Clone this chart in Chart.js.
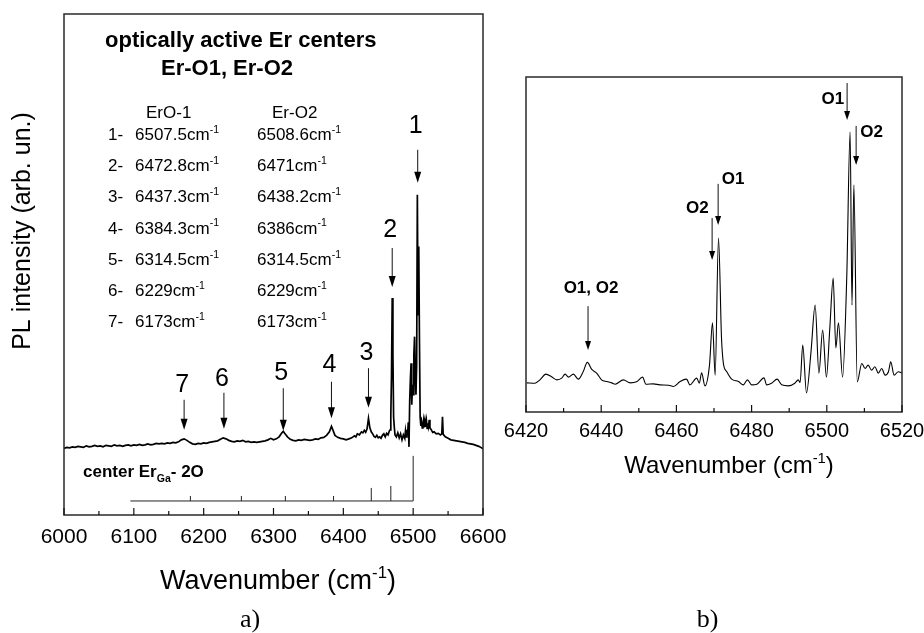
<!DOCTYPE html>
<html><head><meta charset="utf-8">
<script src="https://cdn.jsdelivr.net/npm/chart.js@4/dist/chart.umd.min.js"></script>
<style>
html,body{margin:0;padding:0;background:#fff;width:924px;height:633px;overflow:hidden}
canvas{position:absolute;top:0}
#ca{left:0}
#cb{left:500px}
</style></head><body>
<canvas id="ca" width="520" height="633"></canvas>
<canvas id="cb" width="424" height="633"></canvas>
<script>
// ---------------- DATA (panel a) ----------------
const wavenumberA = [6000,6004,6008,6012,6016,6020,6024,6028,6032,6036,6040,6044,6048,6052,6056,6060,6064,6068,6072,6076,6080,6084,6088,6092,6096,6100,6104,6108,6112,6116,6120,6124,6128,6132,6136,6140,6144,6148,6152,6156,6160,6164,6168,6172,6176,6180,6184,6188,6192,6196,6200,6204,6208,6212,6216,6220,6224,6228,6232,6236,6240,6244,6248,6252,6256,6260,6264,6268,6272,6276,6280,6284,6288,6292,6296,6300,6304,6308,6312,6314,6316,6320,6324,6328,6332,6336,6340,6344,6348,6352,6356,6360,6364,6368,6372,6376,6380,6383,6385,6388,6392,6396,6400,6404,6408,6412,6416,6418,6420,6423,6426,6428,6430,6432,6434,6436,6438,6440,6442,6444,6446,6448,6450,6452,6454,6456,6458,6460,6462,6464,6466,6467,6468,6469,6470,6471,6472,6473,6474,6476,6478,6480,6482,6484,6486,6488,6489,6490,6491,6492,6493,6494,6495,6496,6497,6498,6499,6500,6501,6502,6503,6504,6505,6506,6507,6508,6509,6510,6511,6512,6513,6514,6515,6516,6517,6518,6519,6520,6521,6522,6523,6524,6526,6528,6530,6533,6536,6539,6541,6542,6543,6546,6550,6554,6558,6562,6566,6570,6574,6578,6582,6586,6590,6594,6598,6600];
const intensityA = [13.3,13.5,13.4,13.6,13.5,13.7,13.6,13.5,13.8,13.6,13.7,13.9,13.7,13.8,13.6,13.9,13.8,13.7,14.0,13.8,13.9,13.7,13.9,14.0,13.8,14.0,13.9,14.1,13.9,14.0,14.2,14.0,14.1,14.3,14.2,14.3,14.2,14.4,14.3,14.5,14.4,14.6,15.0,15.2,14.9,14.5,14.2,14.1,14.3,14.2,14.4,14.3,14.5,14.6,14.7,14.8,15.1,15.4,15.2,14.9,14.7,14.6,14.8,14.7,14.9,14.6,14.7,14.5,14.6,14.5,14.6,14.7,14.8,15.0,15.3,15.0,15.2,15.6,16.4,16.7,16.3,15.6,15.1,14.9,14.8,15.0,14.9,15.1,15.0,14.9,15.0,15.2,15.1,15.4,15.5,15.9,16.6,17.7,17.0,15.9,15.5,15.3,15.2,15.0,15.2,15.4,15.8,15.6,16.2,16.0,16.6,16.4,16.9,16.5,17.2,19.3,17.4,16.6,16.2,15.7,15.5,15.9,15.4,15.6,15.3,15.9,16.2,15.6,16.3,16.0,16.8,17.0,20.0,28.0,43.3,32.0,19.5,17.5,16.0,15.6,16.4,15.4,16.2,15.0,16.0,15.3,16.8,15.6,17.0,16.0,18.5,13.6,22.6,27.0,30.3,22.0,26.0,24.0,32.0,35.6,28.0,24.0,30.0,63.9,40.0,53.6,35.0,19.5,17.8,18.6,17.4,18.0,19.0,17.5,18.8,17.6,18.8,17.3,18.3,17.6,19.0,17.4,17.0,16.5,16.6,16.2,16.3,16.0,16.2,19.6,16.1,15.6,15.3,15.0,14.9,14.8,14.7,14.6,14.5,14.3,14.2,14.1,13.9,13.7,13.4,13.2];
// stick diagram "center Er_Ga - 2O"
const stickBaseFrom = 6095, stickBaseTo = 6500, stickBaseLevel = 2.8;
const stickPositions = [6500, 6468, 6440, 6386, 6317, 6254, 6181];
const stickHeights   = [11.8, 5.8, 5.4, 3.8, 3.8, 3.8, 3.8];
// peak labels
const peakNumbers = ['1','2','3','4','5','6','7'];
const peakPositionsA = [6506.5, 6470, 6436, 6383, 6314, 6229, 6172];
const tableO1 = ['6507.5','6472.8','6437.3','6384.3','6314.5','6229','6173'];
const tableO2 = ['6508.6','6471','6438.2','6386','6314.5','6229','6173'];
const ticksA = [6000,6100,6200,6300,6400,6500,6600];
const minorTicksA = [6050,6150,6250,6350,6450,6550];

// ---------------- DATA (panel b) ----------------
const wavenumberB = [6420.2,6422.4,6423.7,6425.3,6426.8,6428.2,6429.5,6430.4,6431.3,6432.6,6433.9,6435.2,6436.3,6437.5,6438.8,6440.1,6441.5,6442.8,6443.7,6445.9,6447.7,6449.4,6451.0,6451.9,6453.9,6455.6,6457.9,6459.2,6461.0,6462.7,6463.6,6465.4,6466.1,6466.7,6467.6,6468.8,6469.6,6470.3,6471.2,6472.0,6472.5,6473.4,6474.7,6476.5,6477.8,6478.9,6480.0,6481.4,6483.3,6484.0,6485.3,6486.8,6488.0,6489.8,6491.5,6492.4,6492.9,6493.6,6494.6,6495.8,6496.9,6497.9,6498.9,6499.9,6500.8,6501.7,6502.4,6503.1,6504.2,6505.3,6506.2,6506.7,6507.2,6508.1,6509.3,6510.2,6511.0,6511.9,6512.8,6513.7,6514.6,6515.5,6516.4,6517.0,6517.9,6519.0,6520.0];
const intensityB = [8.7,8.6,9.6,11.3,10.5,9.6,10.1,11.3,10.4,11.3,9.8,12.0,14.8,12.7,11.6,9.6,9.1,8.7,8.3,9.6,8.7,9.0,10.4,8.3,8.4,8.1,8.0,7.6,9.1,9.8,8.1,10.1,8.6,11.7,7.8,14.0,26.6,11.0,51.9,22.0,14.5,12.0,9.8,9.1,8.1,9.6,8.1,8.3,10.2,8.1,8.6,9.8,8.1,7.8,8.6,9.6,8.8,20.0,5.7,18.0,31.9,11.6,24.5,10.4,25.0,40.0,19.1,26.6,10.4,40.0,83.6,31.9,67.8,9.0,14.5,13.0,14.0,12.5,13.5,11.6,13.0,11.0,12.0,15.0,11.0,12.0,11.6];
const ticksB = [6420,6440,6460,6480,6500,6520];
const minorTicksB = [6430,6450,6470,6490,6510];

// ---------------- helpers ----------------
const SANS = '"Liberation Sans", Arial, Helvetica, sans-serif';
const SERIF = '"Liberation Serif", "Times New Roman", serif';
function fnt(size, bold, fam){ return (bold ? 'bold ' : '') + size + 'px ' + (fam || SANS); }
function rich(ctx, parts, x, y, size, bold, align, fam){
  const sz = m => m ? size * 0.62 : size;
  const widths = parts.map(([t, m]) => { ctx.font = fnt(sz(m), bold, fam); return ctx.measureText(t).width; });
  const total = widths.reduce((a, b) => a + b, 0);
  let cx = align === 'center' ? x - total / 2 : (align === 'right' ? x - total : x);
  ctx.textAlign = 'left'; ctx.textBaseline = 'alphabetic'; ctx.fillStyle = '#000';
  parts.forEach(([t, m], i) => {
    ctx.font = fnt(sz(m), bold, fam);
    const dy = m === 1 ? -size * 0.42 : (m === -1 ? size * 0.28 : 0);
    ctx.fillText(t, cx, y + dy);
    cx += widths[i];
  });
}
function arrow(ctx, x, y1, y2, head, hw){
  ctx.save();
  ctx.strokeStyle = '#111'; ctx.fillStyle = '#000'; ctx.lineWidth = 1;
  ctx.beginPath(); ctx.moveTo(x, y1); ctx.lineTo(x, y2 - head + 1); ctx.stroke();
  ctx.beginPath(); ctx.moveTo(x - hw, y2 - head); ctx.lineTo(x + hw, y2 - head); ctx.lineTo(x, y2); ctx.closePath(); ctx.fill();
  ctx.restore();
}
function frameAndTicks(chart, majors, minors, majLen, minLen){
  const ctx = chart.ctx, a = chart.chartArea, xs = chart.scales.x;
  ctx.save();
  ctx.strokeStyle = '#2a2a2a'; ctx.lineWidth = 1.5;
  ctx.strokeRect(a.left, a.top, a.right - a.left, a.bottom - a.top);
  ctx.lineWidth = 1.2; ctx.strokeStyle = '#111';
  ctx.beginPath();
  majors.forEach(v => { const p = xs.getPixelForValue(v); ctx.moveTo(p, a.bottom); ctx.lineTo(p, a.bottom - majLen); });
  minors.forEach(v => { const p = xs.getPixelForValue(v); ctx.moveTo(p, a.bottom); ctx.lineTo(p, a.bottom - minLen); });
  ctx.stroke();
  ctx.restore();
}

// stick dataset built from the stick arrays
const stickData = [{x: stickBaseFrom, y: stickBaseLevel}, {x: stickBaseTo, y: stickBaseLevel}, {x: stickBaseTo, y: null}];
stickPositions.forEach((p, i) => { stickData.push({x: p, y: stickBaseLevel}, {x: p, y: stickHeights[i]}, {x: p + 0.01, y: null}); });

// annotation layout for panel a (y in intensity units)
const peakLabelY  = [76.2, 55.5, 30.9, 28.5, 26.9, 25.7, 24.6];
const peakArrowY1 = [72.9, 53.3, 29.3, 26.6, 25.3, 24.4, 23.0];
const peakArrowY2 = [66.3, 45.5, 21.4, 19.3, 16.8, 17.2, 17.0];

const plugA = {
  id: 'plugA',
  afterDraw(chart){
    const ctx = chart.ctx, xs = chart.scales.x, ys = chart.scales.y;
    frameAndTicks(chart, ticksA, minorTicksA, 7, 4);
    rich(ctx, [['Wavenumber (cm', 0], ['-1', 1], [')', 0]], 278, 589, 27, false, 'center');
    ctx.save(); ctx.translate(30, 231); ctx.rotate(-Math.PI / 2);
    rich(ctx, [['PL intensity (arb. un.)', 0]], 0, 0, 25, false, 'center');
    ctx.restore();
    rich(ctx, [['a)', 0]], 250, 627, 26, false, 'center', SERIF);
    rich(ctx, [['optically active Er centers', 0]], 105, 46.5, 22, true, 'left');
    rich(ctx, [['Er-O1, Er-O2', 0]], 227, 75, 22, true, 'center');
    rich(ctx, [['ErO-1', 0]], 146, 118, 17, false, 'left');
    rich(ctx, [['Er-O2', 0]], 272, 118, 17, false, 'left');
    for (let i = 0; i < tableO1.length; i++){
      const y = 140 + 31.2 * i;
      rich(ctx, [[(i + 1) + '-', 0]], 108, y, 17, false, 'left');
      rich(ctx, [[tableO1[i] + 'cm', 0], ['-1', 1]], 135, y, 17, false, 'left');
      rich(ctx, [[tableO2[i] + 'cm', 0], ['-1', 1]], 257, y, 17, false, 'left');
    }
    peakNumbers.forEach((n, i) => {
      const x = xs.getPixelForValue(peakPositionsA[i]);
      rich(ctx, [[n, 0]], x - 2, ys.getPixelForValue(peakLabelY[i]), 25, false, 'center');
      arrow(ctx, x, ys.getPixelForValue(peakArrowY1[i]), ys.getPixelForValue(peakArrowY2[i]), 11, 3.5);
    });
    rich(ctx, [['center Er', 0], ['Ga', -1], ['- 2O', 0]], 83, 477, 17, true, 'left');
  }
};

// annotation layout for panel b
const annB = [
  {t: 'O1, O2', tx: 6437.3, ty: 35.5, ax: 6436.5, a1: 31.6, a2: 18.5},
  {t: 'O2', tx: 6465.6, ty: 59.3, ax: 6469.5, a1: 57.9, a2: 45.4},
  {t: 'O1', tx: 6475.1, ty: 68.0, ax: 6471.1, a1: 68.1, a2: 55.8},
  {t: 'O1', tx: 6501.6, ty: 91.9, ax: 6505.4, a1: 98.2, a2: 87.2},
  {t: 'O2', tx: 6511.9, ty: 82.2, ax: 6507.8, a1: 85.4, a2: 73.7}
];
const plugB = {
  id: 'plugB',
  afterDraw(chart){
    const ctx = chart.ctx, xs = chart.scales.x, ys = chart.scales.y;
    frameAndTicks(chart, ticksB, minorTicksB, 7, 4);
    rich(ctx, [['Wavenumber (cm', 0], ['-1', 1], [')', 0]], 229, 473, 24, false, 'center');
    rich(ctx, [['b)', 0]], 207.5, 627, 26, false, 'center', SERIF);
    annB.forEach(o => {
      rich(ctx, [[o.t, 0]], xs.getPixelForValue(o.tx), ys.getPixelForValue(o.ty), 17, true, 'center');
      arrow(ctx, xs.getPixelForValue(o.ax), ys.getPixelForValue(o.a1), ys.getPixelForValue(o.a2), 9, 3);
    });
  }
};

function xTickCfg(size, pad){
  return { color: '#000', font: {family: SANS, size: size}, padding: pad, maxRotation: 0, autoSkip: false, callback: v => String(v) };
}
function fixFit(h){
  return s => { s.height = h; s.paddingLeft = 0; s.paddingRight = 0; s.paddingTop = 0; s.paddingBottom = 0; };
}

new Chart(document.getElementById('ca'), {
  type: 'line',
  data: { datasets: [
    { data: wavenumberA.map((x, i) => ({x: x, y: intensityA[i]})), borderColor: '#000', borderWidth: 1.7, pointRadius: 0, tension: 0 },
    { data: stickData, borderColor: '#222', borderWidth: 1, pointRadius: 0, spanGaps: false, tension: 0 }
  ]},
  options: {
    responsive: false, animation: false, devicePixelRatio: 1,
    layout: {padding: {left: 64, right: 37, top: 14, bottom: 0}},
    plugins: {legend: {display: false}, tooltip: {enabled: false}},
    scales: {
      x: { type: 'linear', min: 6000, max: 6600,
           afterFit: fixFit(118),
           afterBuildTicks: s => { s.ticks = ticksA.map(v => ({value: v})); },
           grid: {display: false, drawTicks: false}, border: {display: false},
           ticks: xTickCfg(21, 10) },
      y: { type: 'linear', min: 0, max: 100, display: false }
    }
  },
  plugins: [plugA]
});

new Chart(document.getElementById('cb'), {
  type: 'line',
  data: { datasets: [
    { data: wavenumberB.map((x, i) => ({x: x, y: intensityB[i]})), borderColor: '#000', borderWidth: 1.1, pointRadius: 0, cubicInterpolationMode: 'monotone' }
  ]},
  options: {
    responsive: false, animation: false, devicePixelRatio: 1,
    layout: {padding: {left: 26, right: 22, top: 77, bottom: 0}},
    plugins: {legend: {display: false}, tooltip: {enabled: false}},
    scales: {
      x: { type: 'linear', min: 6420, max: 6520,
           afterFit: fixFit(221),
           afterBuildTicks: s => { s.ticks = ticksB.map(v => ({value: v})); },
           grid: {display: false, drawTicks: false}, border: {display: false},
           ticks: xTickCfg(20, 7) },
      y: { type: 'linear', min: 0, max: 100, display: false }
    }
  },
  plugins: [plugB]
});
</script></body></html>
